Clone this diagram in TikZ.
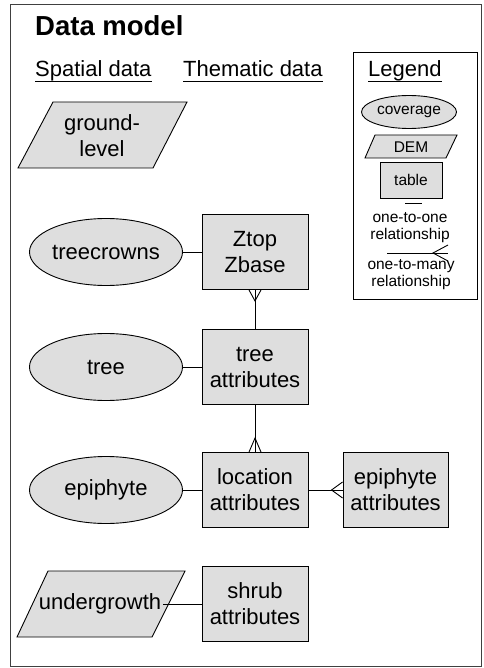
\documentclass[tikz,border=0pt]{standalone}
\usepackage{fontspec}
\setmainfont{Liberation Sans}
\usepackage{xcolor}
\usetikzlibrary{shapes.geometric, calc}
\definecolor{shade}{RGB}{222,222,222}
\tikzset{
    every node/.style={font=\fontsize{22}{26}\selectfont, align=center},
    coverage/.style={ellipse, draw, fill=shade, line width=0.9pt, minimum width=153pt, minimum height=67pt, inner sep=0pt},
    tablebox/.style={rectangle, draw, fill=shade, line width=0.9pt, minimum width=106pt, minimum height=75pt, inner sep=0pt},
    dem/.style={draw, fill=shade, line width=0.9pt},
    link/.style={line width=0.9pt},
    heading/.style={anchor=base west, inner sep=0pt},
    uline/.style={line width=0.8pt},
    legendtext/.style={font=\fontsize{15.5}{17}\selectfont, inner sep=0pt}
}

\begin{document}
\begin{tikzpicture}[x=1pt, y=-1pt]
    \useasboundingbox (0,0) rectangle (483,668);
    \draw[line width=1pt, black!75] (10,5) rectangle (481,666);
    % Title and headings
    \node[heading, font=\bfseries\fontsize{27.5}{30}\selectfont] (title) at (35,36) {Data model};
    \node[heading] (spatial) at (35,77) {Spatial data};
    \node[heading] (thematic) at (183,77) {Thematic data};
    \node[heading] (legend) at (368,77) {Legend};
    \foreach \h in {spatial, thematic, legend}
        \draw[uline] ($(\h.base west)+(0,4.5)$) -- ($(\h.base east)+(0,4.5)$);
    % Legend
    \draw[line width=0.8pt] (353,52) rectangle (477,299);
    \node[coverage, minimum width=95pt, minimum height=33pt, legendtext] (lcov) at (409,112) {coverage};
    \draw[dem] (365,158) -- (446,158) -- (457,135) -- (375,135) -- cycle;
    \node[legendtext] (ldem) at (411,147) {DEM};
    \node[tablebox, minimum width=62pt, minimum height=36pt, legendtext] (ltable) at (411,180) {table};
    \draw[link] (405,203) -- (422,203);
    \node[legendtext] (lone) at (410,228) {one-to-one\\relationship};
    \draw[link] (387,253) -- (448,253);
    \draw[link] (448,245) -- (433,253) -- (448,261);
    \node[legendtext] (lmany) at (411,275) {one-to-many\\relationship};
    % Spatial data
    \draw[dem] (18,168) -- (153,168) -- (187,102) -- (53,102) -- cycle;
    \node (ground) at (102,136) {ground-\\level};
    \node[coverage] (treecrowns) at (106,252) {treecrowns};
    \node[coverage] (tree) at (106,367) {tree};
    \node[coverage] (epiphyte) at (106,490) {epiphyte};
    \draw[dem] (17,637) -- (152,637) -- (185,571) -- (48,571) -- cycle;
    \node[inner sep=2pt] (undergrowth) at (100,604) {undergrowth};
    % Thematic data
    \node[tablebox] (ztop) at (255,252) {Ztop\\Zbase};
    \node[tablebox] (treeattr) at (255,367) {tree\\attributes};
    \node[tablebox] (location) at (255,490) {location\\attributes};
    \node[tablebox, minimum width=105pt] (epiattr) at (395.5,490) {epiphyte\\attributes};
    \node[tablebox] (shrub) at (255,604) {shrub\\attributes};
    % Relationships
    \draw[link] (treecrowns) -- (ztop);
    \draw[link] (tree) -- (treeattr);
    \draw[link] (epiphyte) -- (location);
    \draw[link] (undergrowth.east) -- (shrub.west);
    \draw[link] (ztop) -- (treeattr);
    \draw[link] ($(ztop.south)+(-6,0)$) -- ($(ztop.south)+(0,11)$) -- ($(ztop.south)+(6,0)$);
    \draw[link] (treeattr) -- (location);
    \draw[link] ($(location.north)+(-6,0)$) -- ($(location.north)+(0,-14)$) -- ($(location.north)+(6,0)$);
    \draw[link] (location) -- (epiattr);
    \draw[link] ($(epiattr.west)+(0,-8)$) -- ($(epiattr.west)+(-11,0)$) -- ($(epiattr.west)+(0,8)$);
\end{tikzpicture}
\end{document}
